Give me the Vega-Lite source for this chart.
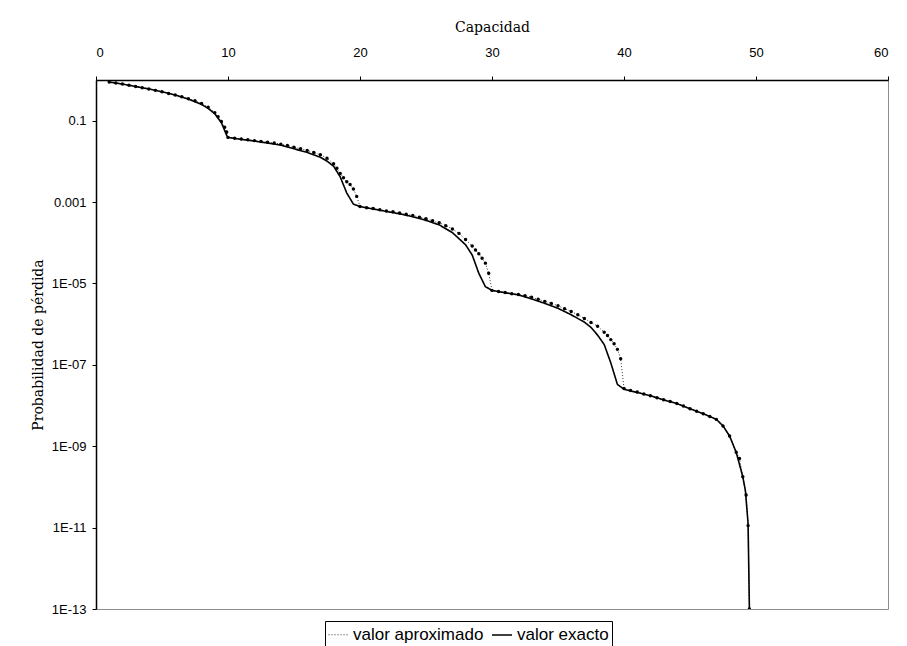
{
  "$schema": "https://vega.github.io/schema/vega-lite/v6.json",
  "autosize": {"type": "none"},
  "padding": {"left": 96, "top": 80, "right": 19, "bottom": 37},
  "width": 792,
  "height": 529,
  "background": "white",
  "config": {"view": {"stroke": "#8c8c8c", "strokeWidth": 1}, "axis": {"grid": false}},
  "data": {"values": [
    {"c": 1, "p": 0.891, "serie": "valor exacto"},
    {"c": 2, "p": 0.794, "serie": "valor exacto"},
    {"c": 3, "p": 0.692, "serie": "valor exacto"},
    {"c": 4, "p": 0.603, "serie": "valor exacto"},
    {"c": 5, "p": 0.513, "serie": "valor exacto"},
    {"c": 6, "p": 0.427, "serie": "valor exacto"},
    {"c": 7, "p": 0.339, "serie": "valor exacto"},
    {"c": 8, "p": 0.251, "serie": "valor exacto"},
    {"c": 8.5, "p": 0.2, "serie": "valor exacto"},
    {"c": 9, "p": 0.148, "serie": "valor exacto"},
    {"c": 9.5, "p": 0.0891, "serie": "valor exacto"},
    {"c": 9.9, "p": 0.0437, "serie": "valor exacto"},
    {"c": 10, "p": 0.0389, "serie": "valor exacto"},
    {"c": 11, "p": 0.0347, "serie": "valor exacto"},
    {"c": 12, "p": 0.0316, "serie": "valor exacto"},
    {"c": 13, "p": 0.0282, "serie": "valor exacto"},
    {"c": 14, "p": 0.0251, "serie": "valor exacto"},
    {"c": 15, "p": 0.0204, "serie": "valor exacto"},
    {"c": 16, "p": 0.0166, "serie": "valor exacto"},
    {"c": 17, "p": 0.0126, "serie": "valor exacto"},
    {"c": 17.5, "p": 0.0102, "serie": "valor exacto"},
    {"c": 18, "p": 0.00759, "serie": "valor exacto"},
    {"c": 18.5, "p": 0.00417, "serie": "valor exacto"},
    {"c": 19, "p": 0.00166, "serie": "valor exacto"},
    {"c": 19.5, "p": 0.000891, "serie": "valor exacto"},
    {"c": 20, "p": 0.000776, "serie": "valor exacto"},
    {"c": 21, "p": 0.000676, "serie": "valor exacto"},
    {"c": 22, "p": 0.000589, "serie": "valor exacto"},
    {"c": 23, "p": 0.000513, "serie": "valor exacto"},
    {"c": 24, "p": 0.000437, "serie": "valor exacto"},
    {"c": 25, "p": 0.000355, "serie": "valor exacto"},
    {"c": 26, "p": 0.000275, "serie": "valor exacto"},
    {"c": 27, "p": 0.000178, "serie": "valor exacto"},
    {"c": 28, "p": 8.91e-5, "serie": "valor exacto"},
    {"c": 28.5, "p": 5.01e-5, "serie": "valor exacto"},
    {"c": 29, "p": 1.78e-5, "serie": "valor exacto"},
    {"c": 29.5, "p": 8.32e-6, "serie": "valor exacto"},
    {"c": 30, "p": 6.76e-6, "serie": "valor exacto"},
    {"c": 31, "p": 5.89e-6, "serie": "valor exacto"},
    {"c": 32, "p": 5.25e-6, "serie": "valor exacto"},
    {"c": 33, "p": 4.17e-6, "serie": "valor exacto"},
    {"c": 34, "p": 3.24e-6, "serie": "valor exacto"},
    {"c": 35, "p": 2.45e-6, "serie": "valor exacto"},
    {"c": 36, "p": 1.7e-6, "serie": "valor exacto"},
    {"c": 37, "p": 1.12e-6, "serie": "valor exacto"},
    {"c": 37.5, "p": 8.32e-7, "serie": "valor exacto"},
    {"c": 38, "p": 5.37e-7, "serie": "valor exacto"},
    {"c": 38.5, "p": 3.16e-7, "serie": "valor exacto"},
    {"c": 39, "p": 1.12e-7, "serie": "valor exacto"},
    {"c": 39.5, "p": 3.31e-8, "serie": "valor exacto"},
    {"c": 40, "p": 2.51e-8, "serie": "valor exacto"},
    {"c": 41, "p": 2.09e-8, "serie": "valor exacto"},
    {"c": 42, "p": 1.74e-8, "serie": "valor exacto"},
    {"c": 43, "p": 1.38e-8, "serie": "valor exacto"},
    {"c": 44, "p": 1.12e-8, "serie": "valor exacto"},
    {"c": 45, "p": 8.32e-9, "serie": "valor exacto"},
    {"c": 46, "p": 6.31e-9, "serie": "valor exacto"},
    {"c": 47, "p": 4.57e-9, "serie": "valor exacto"},
    {"c": 47.5, "p": 3.16e-9, "serie": "valor exacto"},
    {"c": 48, "p": 1.78e-9, "serie": "valor exacto"},
    {"c": 48.5, "p": 7.08e-10, "serie": "valor exacto"},
    {"c": 49, "p": 1.78e-10, "serie": "valor exacto"},
    {"c": 49.2, "p": 7.94e-11, "serie": "valor exacto"},
    {"c": 49.4, "p": 1.26e-11, "serie": "valor exacto"},
    {"c": 49.5, "p": 1e-13, "serie": "valor exacto"},

    {"c": 1, "p": 0.891, "serie": "valor aproximado"},
    {"c": 1.5, "p": 0.841, "serie": "valor aproximado"},
    {"c": 2, "p": 0.794, "serie": "valor aproximado"},
    {"c": 2.5, "p": 0.741, "serie": "valor aproximado"},
    {"c": 3, "p": 0.692, "serie": "valor aproximado"},
    {"c": 3.5, "p": 0.646, "serie": "valor aproximado"},
    {"c": 4, "p": 0.603, "serie": "valor aproximado"},
    {"c": 4.5, "p": 0.556, "serie": "valor aproximado"},
    {"c": 5, "p": 0.513, "serie": "valor aproximado"},
    {"c": 5.5, "p": 0.468, "serie": "valor aproximado"},
    {"c": 6, "p": 0.427, "serie": "valor aproximado"},
    {"c": 6.5, "p": 0.389, "serie": "valor aproximado"},
    {"c": 7, "p": 0.347, "serie": "valor aproximado"},
    {"c": 7.5, "p": 0.309, "serie": "valor aproximado"},
    {"c": 8, "p": 0.263, "serie": "valor aproximado"},
    {"c": 8.5, "p": 0.214, "serie": "valor aproximado"},
    {"c": 9, "p": 0.158, "serie": "valor aproximado"},
    {"c": 9.25, "p": 0.126, "serie": "valor aproximado"},
    {"c": 9.5, "p": 0.0955, "serie": "valor aproximado"},
    {"c": 9.75, "p": 0.0692, "serie": "valor aproximado"},
    {"c": 9.9, "p": 0.0525, "serie": "valor aproximado"},
    {"c": 10, "p": 0.0389, "serie": "valor aproximado"},
    {"c": 10.5, "p": 0.0372, "serie": "valor aproximado"},
    {"c": 11, "p": 0.0355, "serie": "valor aproximado"},
    {"c": 11.5, "p": 0.0339, "serie": "valor aproximado"},
    {"c": 12, "p": 0.0324, "serie": "valor aproximado"},
    {"c": 12.5, "p": 0.0309, "serie": "valor aproximado"},
    {"c": 13, "p": 0.0295, "serie": "valor aproximado"},
    {"c": 13.5, "p": 0.0282, "serie": "valor aproximado"},
    {"c": 14, "p": 0.0263, "serie": "valor aproximado"},
    {"c": 14.5, "p": 0.0245, "serie": "valor aproximado"},
    {"c": 15, "p": 0.0224, "serie": "valor aproximado"},
    {"c": 15.5, "p": 0.0204, "serie": "valor aproximado"},
    {"c": 16, "p": 0.0186, "serie": "valor aproximado"},
    {"c": 16.5, "p": 0.0166, "serie": "valor aproximado"},
    {"c": 17, "p": 0.0145, "serie": "valor aproximado"},
    {"c": 17.5, "p": 0.012, "serie": "valor aproximado"},
    {"c": 18, "p": 0.00871, "serie": "valor aproximado"},
    {"c": 18.25, "p": 0.00676, "serie": "valor aproximado"},
    {"c": 18.5, "p": 0.00501, "serie": "valor aproximado"},
    {"c": 18.75, "p": 0.00398, "serie": "valor aproximado"},
    {"c": 19, "p": 0.00316, "serie": "valor aproximado"},
    {"c": 19.25, "p": 0.00269, "serie": "valor aproximado"},
    {"c": 19.5, "p": 0.00209, "serie": "valor aproximado"},
    {"c": 19.75, "p": 0.00138, "serie": "valor aproximado"},
    {"c": 20, "p": 0.000776, "serie": "valor aproximado"},
    {"c": 20.5, "p": 0.000724, "serie": "valor aproximado"},
    {"c": 21, "p": 0.000692, "serie": "valor aproximado"},
    {"c": 21.5, "p": 0.000646, "serie": "valor aproximado"},
    {"c": 22, "p": 0.000603, "serie": "valor aproximado"},
    {"c": 22.5, "p": 0.000575, "serie": "valor aproximado"},
    {"c": 23, "p": 0.000537, "serie": "valor aproximado"},
    {"c": 23.5, "p": 0.000501, "serie": "valor aproximado"},
    {"c": 24, "p": 0.000468, "serie": "valor aproximado"},
    {"c": 24.5, "p": 0.000427, "serie": "valor aproximado"},
    {"c": 25, "p": 0.000389, "serie": "valor aproximado"},
    {"c": 25.5, "p": 0.000347, "serie": "valor aproximado"},
    {"c": 26, "p": 0.000309, "serie": "valor aproximado"},
    {"c": 26.5, "p": 0.000263, "serie": "valor aproximado"},
    {"c": 27, "p": 0.000219, "serie": "valor aproximado"},
    {"c": 27.5, "p": 0.000170, "serie": "valor aproximado"},
    {"c": 28, "p": 0.00012, "serie": "valor aproximado"},
    {"c": 28.5, "p": 8.32e-5, "serie": "valor aproximado"},
    {"c": 28.75, "p": 6.61e-5, "serie": "valor aproximado"},
    {"c": 29, "p": 5.37e-5, "serie": "valor aproximado"},
    {"c": 29.25, "p": 4.17e-5, "serie": "valor aproximado"},
    {"c": 29.5, "p": 3.16e-5, "serie": "valor aproximado"},
    {"c": 29.75, "p": 1.78e-5, "serie": "valor aproximado"},
    {"c": 30, "p": 6.76e-6, "serie": "valor aproximado"},
    {"c": 30.5, "p": 6.31e-6, "serie": "valor aproximado"},
    {"c": 31, "p": 6.03e-6, "serie": "valor aproximado"},
    {"c": 31.5, "p": 5.62e-6, "serie": "valor aproximado"},
    {"c": 32, "p": 5.37e-6, "serie": "valor aproximado"},
    {"c": 32.5, "p": 5.01e-6, "serie": "valor aproximado"},
    {"c": 33, "p": 4.57e-6, "serie": "valor aproximado"},
    {"c": 33.5, "p": 4.07e-6, "serie": "valor aproximado"},
    {"c": 34, "p": 3.63e-6, "serie": "valor aproximado"},
    {"c": 34.5, "p": 3.24e-6, "serie": "valor aproximado"},
    {"c": 35, "p": 2.82e-6, "serie": "valor aproximado"},
    {"c": 35.5, "p": 2.4e-6, "serie": "valor aproximado"},
    {"c": 36, "p": 2.04e-6, "serie": "valor aproximado"},
    {"c": 36.5, "p": 1.7e-6, "serie": "valor aproximado"},
    {"c": 37, "p": 1.38e-6, "serie": "valor aproximado"},
    {"c": 37.5, "p": 1.1e-6, "serie": "valor aproximado"},
    {"c": 38, "p": 8.91e-7, "serie": "valor aproximado"},
    {"c": 38.5, "p": 6.31e-7, "serie": "valor aproximado"},
    {"c": 38.75, "p": 5.25e-7, "serie": "valor aproximado"},
    {"c": 39, "p": 4.17e-7, "serie": "valor aproximado"},
    {"c": 39.25, "p": 3.31e-7, "serie": "valor aproximado"},
    {"c": 39.5, "p": 2.4e-7, "serie": "valor aproximado"},
    {"c": 39.75, "p": 1.41e-7, "serie": "valor aproximado"},
    {"c": 40, "p": 2.63e-8, "serie": "valor aproximado"},
    {"c": 40.5, "p": 2.34e-8, "serie": "valor aproximado"},
    {"c": 41, "p": 2.14e-8, "serie": "valor aproximado"},
    {"c": 41.5, "p": 1.91e-8, "serie": "valor aproximado"},
    {"c": 42, "p": 1.74e-8, "serie": "valor aproximado"},
    {"c": 42.5, "p": 1.55e-8, "serie": "valor aproximado"},
    {"c": 43, "p": 1.38e-8, "serie": "valor aproximado"},
    {"c": 43.5, "p": 1.26e-8, "serie": "valor aproximado"},
    {"c": 44, "p": 1.12e-8, "serie": "valor aproximado"},
    {"c": 44.5, "p": 9.77e-9, "serie": "valor aproximado"},
    {"c": 45, "p": 8.32e-9, "serie": "valor aproximado"},
    {"c": 45.5, "p": 7.24e-9, "serie": "valor aproximado"},
    {"c": 46, "p": 6.31e-9, "serie": "valor aproximado"},
    {"c": 46.5, "p": 5.37e-9, "serie": "valor aproximado"},
    {"c": 47, "p": 4.57e-9, "serie": "valor aproximado"},
    {"c": 47.5, "p": 3.16e-9, "serie": "valor aproximado"},
    {"c": 48, "p": 1.78e-9, "serie": "valor aproximado"},
    {"c": 48.5, "p": 7.08e-10, "serie": "valor aproximado"},
    {"c": 48.75, "p": 5.01e-10, "serie": "valor aproximado"},
    {"c": 49, "p": 1.78e-10, "serie": "valor aproximado"},
    {"c": 49.25, "p": 6.31e-11, "serie": "valor aproximado"},
    {"c": 49.4, "p": 1.12e-11, "serie": "valor aproximado"},
    {"c": 49.5, "p": 1e-13, "serie": "valor aproximado"}
  ]},
  "encoding": {
    "x": {
      "field": "c", "type": "quantitative",
      "scale": {"domain": [0, 60], "nice": false, "zero": false},
      "axis": {
        "orient": "top", "values": [0, 10, 20, 30, 40, 50, 60],
        "title": "Capacidad", "titleFont": "DejaVu Serif", "titleFontSize": 14,
        "titleFontWeight": "normal", "titleColor": "black", "titlePadding": 12,
        "labelFont": "Liberation Sans", "labelFontSize": 13, "labelColor": "black",
        "labelPadding": 17, "tickSize": 4, "tickColor": "black",
        "domainColor": "black", "domainWidth": 1.5
      }
    },
    "y": {
      "field": "p", "type": "quantitative",
      "scale": {"type": "log", "domain": [1e-13, 1], "nice": false},
      "axis": {
        "values": [0.1, 0.001, 1e-5, 1e-7, 1e-9, 1e-11, 1e-13],
        "labelExpr": "datum.value > 0.0009 ? (datum.value > 0.05 ? '0.1' : '0.001') : ('1E-' + (round(-log(datum.value)/LN10) < 10 ? '0' : '') + round(-log(datum.value)/LN10))",
        "title": "Probabilidad de  pérdida", "titleFont": "DejaVu Serif", "titleFontSize": 14,
        "titleFontWeight": "normal", "titleColor": "black", "titlePadding": 6,
        "labelFont": "Liberation Sans", "labelFontSize": 13, "labelColor": "black",
        "labelPadding": 6, "tickSize": 4, "tickColor": "black",
        "domainColor": "black", "domainWidth": 1.5
      }
    }
  },
  "layer": [
    {
      "mark": {"type": "line", "color": "black", "clip": true},
      "encoding": {
        "strokeDash": {
          "field": "serie", "type": "nominal",
          "scale": {"domain": ["valor aproximado", "valor exacto"], "range": [[1, 2], [1, 0]]},
          "legend": {
            "orient": "none", "legendX": 229, "legendY": 541, "direction": "horizontal",
            "title": null, "strokeColor": "black", "fillColor": "white", "padding": 3,
            "labelFont": "Liberation Sans", "labelFontSize": 17, "labelColor": "black",
            "symbolType": "stroke", "symbolStrokeColor": "black", "symbolStrokeWidth": 1.5,
            "symbolSize": 400, "columnPadding": 4, "labelOffset": 4
          }
        },
        "strokeWidth": {
          "field": "serie", "type": "nominal",
          "scale": {"domain": ["valor aproximado", "valor exacto"], "range": [0.8, 1.6]},
          "legend": null
        }
      }
    },
    {
      "transform": [{"filter": "datum.serie == 'valor aproximado'"}],
      "mark": {"type": "point", "filled": true, "color": "black", "size": 12, "opacity": 1, "clip": true}
    }
  ]
}
